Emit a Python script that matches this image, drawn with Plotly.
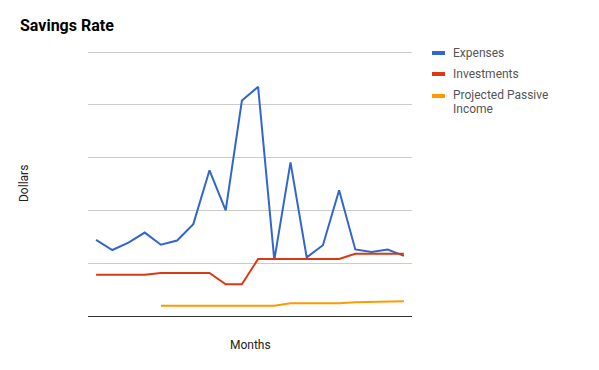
import plotly.graph_objects as go

months = list(range(1, 21))
expenses = [1.44, 1.25, 1.39, 1.58, 1.35, 1.43, 1.74, 2.76, 2.00, 4.08,
            4.34, 1.06, 2.91, 1.11, 1.34, 2.38, 1.26, 1.21, 1.26, 1.14]
investments = [0.78, 0.78, 0.78, 0.78, 0.815, 0.815, 0.815, 0.815, 0.60, 0.60,
               1.08, 1.08, 1.08, 1.08, 1.08, 1.08, 1.18, 1.18, 1.18, 1.18]
passive = [None, None, None, None, 0.196, 0.196, 0.196, 0.196, 0.196, 0.196,
           0.196, 0.196, 0.24, 0.24, 0.24, 0.24, 0.26, 0.265, 0.265, 0.28]

series_names = ["Expenses", "Investments", "Projected Passive Income"]
legend_lines = [["Expenses"], ["Investments"], ["Projected Passive", "Income"]]
series_data = [expenses, investments, passive]
colors = ["#3366cc", "#dc3912", "#ff9900"]

# page body has an 8px margin; work in page coordinates and offset
OFF = 8
W, H = 599 - OFF, 370 - OFF
L, R, T, B = 88, 412, 50, 316
UNIT = 52.8  # pixels per gridline step
YMAX = (B - T) / UNIT

def px(x):
    return (x - L) / (R - L)

def py(y):
    return (B - y) / (B - T)

fig = go.Figure()
for name, data, c in zip(series_names, series_data, colors):
    fig.add_trace(go.Scatter(x=months, y=data, mode="lines", name=name,
                             line=dict(color=c, width=2), connectgaps=False,
                             showlegend=False))

font = "Roboto, Arial, sans-serif"
annotations = [
    dict(text="<b>Savings Rate</b>", x=px(18), y=py(25), xref="paper", yref="paper",
         xanchor="left", yanchor="middle", showarrow=False,
         font=dict(family=font, size=16, color="#000")),
    dict(text="Dollars", x=px(24), y=py(184), xref="paper", yref="paper",
         xanchor="center", yanchor="middle", textangle=-90, showarrow=False,
         font=dict(family=font, size=12, color="#222")),
    dict(text="Months", x=px(250), y=py(345), xref="paper", yref="paper",
         xanchor="center", yanchor="middle", showarrow=False,
         font=dict(family=font, size=12, color="#222")),
]
shapes = []
rows = [53, 74, 96]
for lines, c, yy in zip(legend_lines, colors, rows):
    shapes.append(dict(type="line", xref="paper", yref="paper",
                       x0=px(432), x1=px(445), y0=py(yy), y1=py(yy),
                       line=dict(color=c, width=4)))
    for i, txt in enumerate(lines):
        annotations.append(dict(text=txt, x=px(452), y=py(yy - 0.5 - (0.5 if len(lines) > 1 else 0) + i * 13.5),
                                xref="paper", yref="paper",
                                xanchor="left", yanchor="middle", align="left",
                                showarrow=False, borderpad=0,
                                font=dict(family=font, size=12, color="#555")))

fig.update_layout(
    width=W, height=H,
    margin=dict(l=L - OFF, r=(W + OFF) - R, t=T - OFF, b=(H + OFF) - B),
    paper_bgcolor="white", plot_bgcolor="white",
    showlegend=False,
    annotations=annotations, shapes=shapes,
    xaxis=dict(range=[0.5, 20.5], showgrid=False, zeroline=False, showticklabels=False,
               ticks="", showline=True, linecolor="#333", linewidth=1),
    yaxis=dict(range=[0, YMAX], tick0=0, dtick=1, showgrid=True, gridcolor="#cccccc",
               gridwidth=1, zeroline=False, showticklabels=False, ticks="", showline=False),
)

fig.write_html("out.html")
